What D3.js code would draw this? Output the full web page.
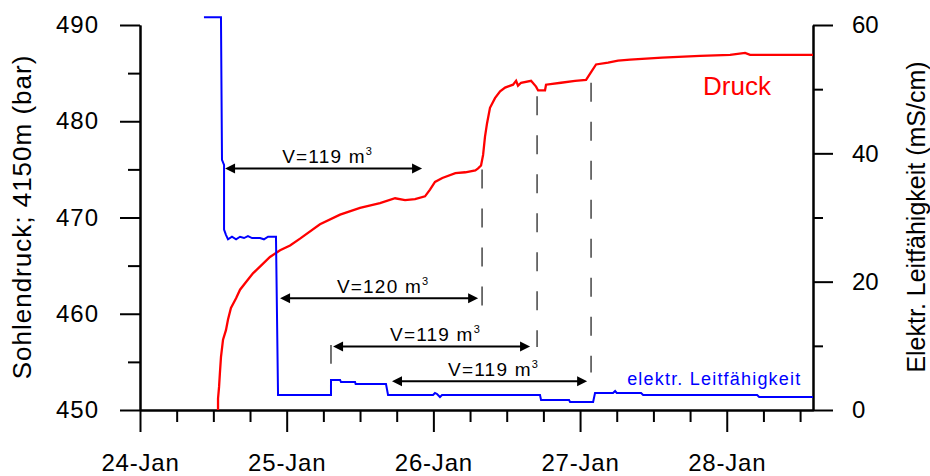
<!DOCTYPE html>
<html><head><meta charset="utf-8">
<script src="https://cdn.jsdelivr.net/npm/d3@7"></script>
<style>
body{margin:0;background:#fff}
svg{display:block}
text{font-family:"Liberation Sans",Arial,Helvetica,sans-serif}
</style>
</head><body>
<svg id="chart" width="930" height="476"></svg>
<script>
// ---- data ----
const dayTicks = [24, 25, 26, 27, 28];
const dayLabels = ["24-Jan", "25-Jan", "26-Jan", "27-Jan", "28-Jan"];
const leftTicks = [450, 460, 470, 480, 490];
const rightTicks = [0, 20, 40, 60];

// Druck (Sohlendruck, bar) - left axis
const druckDays = [24.532,24.532,24.539,24.545,24.552,24.566,24.586,24.600,24.620,24.655,24.682,24.723,24.770,24.832,24.886,24.955,25.023,25.091,25.227,25.364,25.500,25.636,25.739,25.807,25.875,25.943,25.977,26.011,26.061,26.150,26.218,26.286,26.305,26.325,26.339,26.352,26.366,26.386,26.420,26.455,26.489,26.543,26.564,26.577,26.598,26.666,26.700,26.714,26.761,26.768,26.870,26.966,27.041,27.075,27.109,27.191,27.259,27.341,27.559,27.818,28.023,28.125,28.159,28.364,28.588];
const druckBar  = [450.0,451.2,452.4,453.9,455.5,457.3,458.3,459.4,460.6,461.6,462.5,463.3,464.2,465.1,465.9,466.6,467.1,467.8,469.3,470.3,471.0,471.5,472.0,471.8,471.9,472.2,472.9,473.7,474.1,474.6,474.7,474.9,475.1,475.4,476.5,478.4,479.8,481.4,482.4,483.1,483.5,483.8,484.2,483.7,484.0,484.2,483.6,483.2,483.2,483.8,484.0,484.2,484.3,485.1,485.9,486.1,486.3,486.4,486.6,486.8,486.9,487.1,486.9,486.9,486.9];

// elektr. Leitfähigkeit (mS/cm) - right axis
const leitDays   = [24.436,24.552,24.559,24.573,24.573,24.586,24.600,24.627,24.655,24.682,24.709,24.736,24.764,24.818,24.845,24.873,24.927,24.941,25.302,25.302,25.364,25.370,25.466,25.470,25.677,25.691,25.998,26.011,26.025,26.045,26.059,26.727,26.734,26.925,26.932,27.089,27.102,27.225,27.239,27.250,27.416,27.430,28.207,28.221,28.588];
const leitValues = [61.2,61.2,39.0,38.2,28.1,27.3,26.6,27.0,26.6,27.0,26.8,27.1,26.8,26.8,26.6,27.0,27.0,2.34,2.34,4.68,4.68,4.36,4.36,4.05,4.05,2.34,2.34,2.65,2.5,2.03,2.34,2.34,1.56,1.56,1.25,1.25,2.65,2.65,2.96,2.65,2.65,2.34,2.34,2.03,2.03];

// volume annotations (double arrows)
const arrowStart  = [24.580, 24.955, 25.316, 25.718];
const arrowEnd    = [25.923, 26.305, 26.659, 27.048];
const arrowLevel  = [475.1, 461.6, 456.6, 453.0];   // bar
const arrowVolume = ["119", "120", "119", "119"];

// vertical dashed markers
const markerDays   = [26.332, 26.707, 27.075, 25.302];
const markerTop    = [475.0, 482.6, 484.0, 456.75];
const markerBottom = [460.8, 456.55, 453.9, 454.8];

// ---- chart ----
const svg = d3.select("#chart");
const x  = d3.scaleLinear().domain([24, 28.588]).range([140, 813]);
const yL = d3.scaleLinear().domain([450, 490]).range([410, 25]);
const yR = d3.scaleLinear().domain([0, 60]).range([410, 25]);

function styleAxis(g, fs) {
  g.selectAll("path.domain").attr("stroke", "#000").attr("stroke-width", 2);
  g.selectAll(".tick line").attr("stroke", "#000").attr("stroke-width", 2);
  g.selectAll(".tick text").attr("font-size", fs).attr("fill", "#000")
    .attr("font-family", '"Liberation Sans",Arial,sans-serif');
}

const minorX = d3.range(24, 28.6, 0.25).filter(d => Math.abs(d - Math.round(d)) > 1e-6);

// bottom axis
const gxMinor = svg.append("g").attr("transform", "translate(0,410)")
  .call(d3.axisBottom(x).tickValues(minorX).tickSize(12).tickSizeOuter(0).tickFormat(""));
styleAxis(gxMinor, 24);
const gx = svg.append("g").attr("transform", "translate(0,410)")
  .call(d3.axisBottom(x).tickValues(dayTicks).tickSize(22).tickSizeOuter(0).tickPadding(22)
    .tickFormat((d, i) => dayLabels[i]));
styleAxis(gx, 24);
gx.selectAll(".tick text").attr("letter-spacing", "0.8px");

// left axis
const gyLMinor = svg.append("g").attr("transform", "translate(140,0)")
  .call(d3.axisLeft(yL).tickValues([455, 465, 475, 485]).tickSize(12).tickSizeOuter(0).tickFormat(""));
styleAxis(gyLMinor, 24);
const gyL = svg.append("g").attr("transform", "translate(140,0)")
  .call(d3.axisLeft(yL).tickValues(leftTicks).tickSize(20).tickSizeOuter(0).tickPadding(21));
styleAxis(gyL, 24);
gyL.selectAll(".tick text").attr("letter-spacing", "1px");

// right axis
const gyRMinor = svg.append("g").attr("transform", "translate(813,0)")
  .call(d3.axisRight(yR).tickValues([10, 30, 50]).tickSize(10).tickSizeOuter(0).tickFormat(""));
styleAxis(gyRMinor, 24);
const gyR = svg.append("g").attr("transform", "translate(813,0)")
  .call(d3.axisRight(yR).tickValues(rightTicks).tickSize(20).tickSizeOuter(0).tickPadding(19));
styleAxis(gyR, 24);

// axis titles
svg.append("text").attr("transform", "translate(31,217) rotate(-90)")
  .attr("text-anchor", "middle").attr("font-size", 26).attr("letter-spacing", "1px")
  .text("Sohlendruck; 4150m (bar)");
svg.append("text").attr("transform", "translate(925,217) rotate(-90)")
  .attr("text-anchor", "middle").attr("font-size", 25)
  .text("Elektr. Leitfähigkeit (mS/cm)");

// dashed markers
markerDays.forEach((d, i) => {
  svg.append("line")
    .attr("x1", x(d)).attr("x2", x(d))
    .attr("y1", yL(markerTop[i])).attr("y2", yL(markerBottom[i]))
    .attr("stroke", "#444").attr("stroke-width", 1.5)
    .attr("stroke-dasharray", "19,20");
});

// data lines
const druckPts = druckDays.map((d, i) => [d, druckBar[i]]);
const leitPts = leitDays.map((d, i) => [d, leitValues[i]]);
svg.append("path").datum(druckPts)
  .attr("d", d3.line().x(d => x(d[0])).y(d => yL(d[1])))
  .attr("fill", "none").attr("stroke", "#ff0000").attr("stroke-width", 2.3);
svg.append("path").datum(leitPts)
  .attr("d", d3.line().x(d => x(d[0])).y(d => yR(d[1])))
  .attr("fill", "none").attr("stroke", "#0000ff").attr("stroke-width", 2);

// arrows
arrowStart.forEach((s, i) => {
  const x1 = x(s), x2 = x(arrowEnd[i]), y = yL(arrowLevel[i]);
  const hl = 10, hw = 5;
  svg.append("line").attr("x1", x1 + 4).attr("x2", x2 - 4).attr("y1", y).attr("y2", y)
    .attr("stroke", "#000").attr("stroke-width", 2);
  svg.append("path").attr("d", `M${x1},${y}L${x1 + hl},${y - hw}L${x1 + hl},${y + hw}Z`).attr("fill", "#000");
  svg.append("path").attr("d", `M${x2},${y}L${x2 - hl},${y - hw}L${x2 - hl},${y + hw}Z`).attr("fill", "#000");
  const t = svg.append("text").attr("x", (x1 + x2) / 2 + 4).attr("y", y - 5)
    .attr("text-anchor", "middle").attr("font-size", 19).attr("letter-spacing", "1.2px");
  t.append("tspan").text(`V=${arrowVolume[i]} m`);
  t.append("tspan").attr("font-size", 11).attr("dy", -8).text("3");
});

// series labels
svg.append("text").attr("x", x(27.838)).attr("y", yL(482.75))
  .attr("font-size", 26).attr("fill", "#ff0000").text("Druck");
svg.append("text").attr("x", x(27.321)).attr("y", yR(3.9))
  .attr("font-size", 18).attr("letter-spacing", "1.2px").attr("fill", "#0000ff").text("elektr. Leitfähigkeit");
</script>
</body></html>
